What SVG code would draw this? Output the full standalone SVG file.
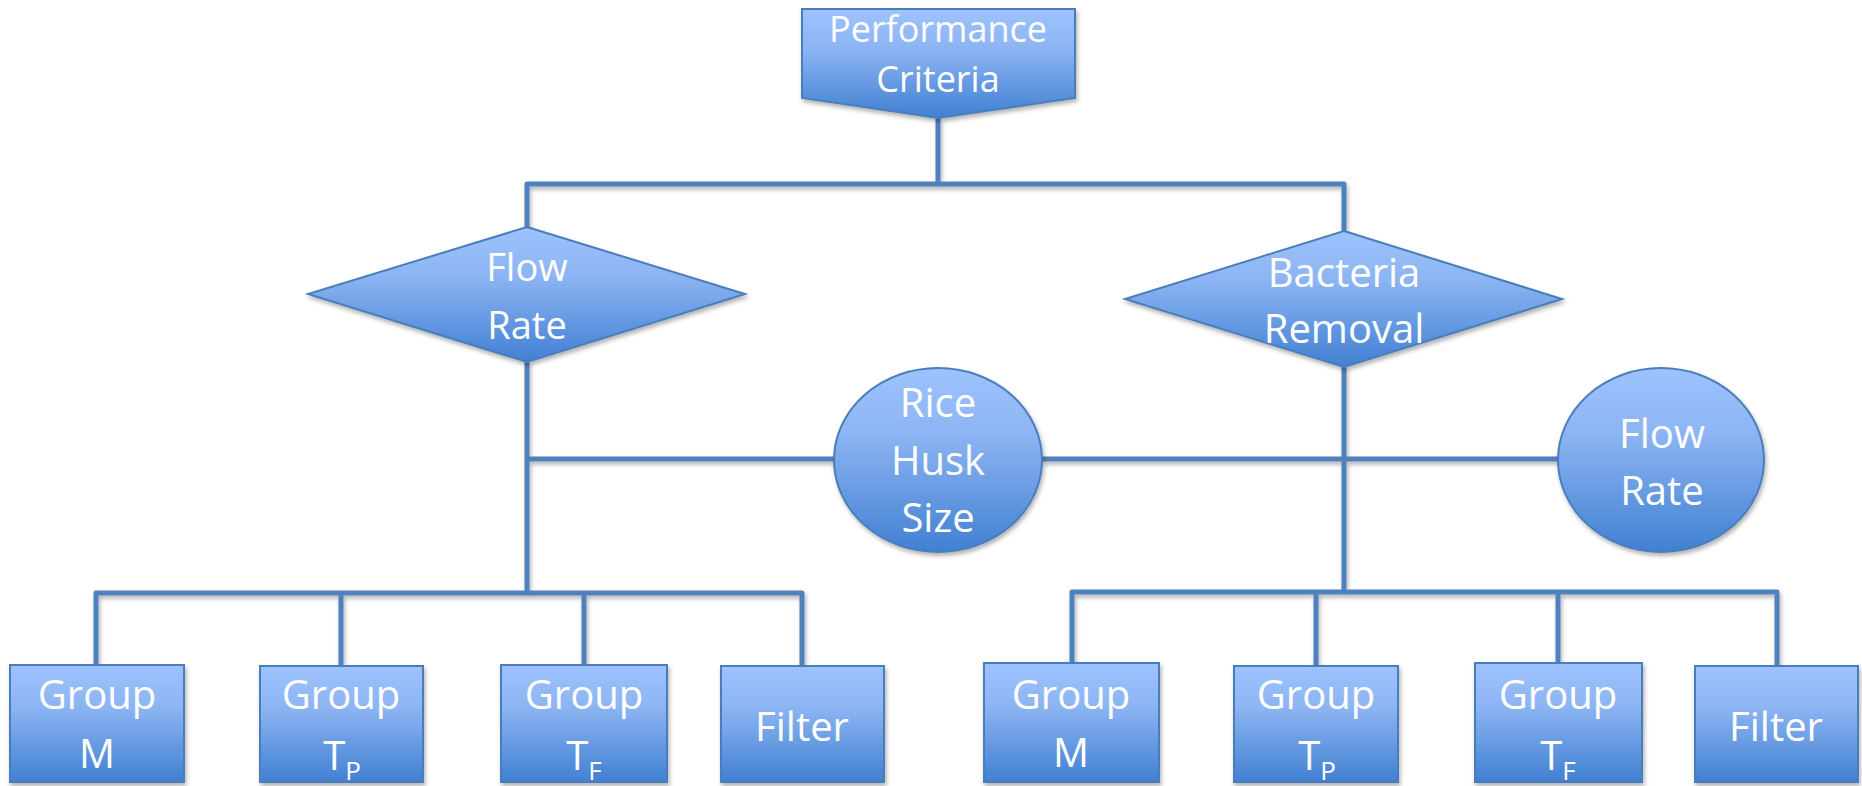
<svg xmlns="http://www.w3.org/2000/svg" width="1862" height="786" viewBox="0 0 1862 786">
<defs>
<linearGradient id="g" x1="0" y1="0" x2="0" y2="1">
<stop offset="0" stop-color="#9DC3FE"/>
<stop offset="0.35" stop-color="#8DB5F3"/>
<stop offset="1" stop-color="#4180D2"/>
</linearGradient>
<filter id="sh" x="-10%" y="-10%" width="130%" height="130%">
<feDropShadow dx="1.5" dy="3" stdDeviation="2" flood-color="#000" flood-opacity="0.3"/>
</filter>
<style>
.n{fill:url(#g);stroke:#4A7EBB;stroke-width:2;filter:url(#sh)}
.c{fill:none;stroke:#4F81BD;stroke-width:5;stroke-linejoin:round;filter:url(#sh)}
.t{fill:#fff;font-family:"Open Sans","Liberation Sans",sans-serif;font-size:40px;text-anchor:middle}
.s{font-size:26px}
</style>
</defs>
<rect width="1862" height="786" fill="#fff"/>
<g id="connectors">
<path class="c" d="M938 118V184M527 227V184H1344V231"/>
<path class="c" d="M527 362V593M527 459H834M96 665V593H802V665M341 593V666M584 593V665"/>
<path class="c" d="M1344 367V591M1042 459H1558M1072 663V592H1777V666M1316 592V666M1558 592V663"/>
</g>
<g id="performance-criteria">
<path class="n" d="M802 9H1075V98L938 118L802 98Z"/>
<text class="t" style="font-size:36px" x="938" y="42">Performance</text>
<text class="t" style="font-size:36px" x="938" y="92">Criteria</text>
</g>
<g id="flow-rate-decision">
<path class="n" d="M527 227L745 294L527 362L308 294Z"/>
<text class="t" style="font-size:38px" x="527" y="281">Flow</text>
<text class="t" style="font-size:38px" x="527" y="339">Rate</text>
</g>
<g id="bacteria-removal-decision">
<path class="n" d="M1344 231L1562 299L1344 367L1125 299Z"/>
<text class="t" x="1344" y="287">Bacteria</text>
<text class="t" x="1344" y="343">Removal</text>
</g>
<g id="rice-husk-size">
<ellipse class="n" cx="938" cy="460" rx="104" ry="92"/>
<text class="t" x="938" y="417">Rice</text>
<text class="t" x="938" y="475">Husk</text>
<text class="t" x="938" y="532">Size</text>
</g>
<g id="flow-rate-circle">
<ellipse class="n" cx="1661" cy="460" rx="103" ry="92"/>
<text class="t" x="1662" y="448">Flow</text>
<text class="t" x="1662" y="505">Rate</text>
</g>
<g id="group-m-left">
<rect class="n" x="10" y="665" width="174" height="117"/>
<text class="t" x="97" y="709">Group</text>
<text class="t" x="97" y="768">M</text>
</g>
<g id="group-tp-left">
<rect class="n" x="260" y="666" width="163" height="116"/>
<text class="t" x="341" y="709">Group</text>
<text class="t" x="342" y="770">T<tspan class="s" dy="10">P</tspan></text>
</g>
<g id="group-tf-left">
<rect class="n" x="501" y="665" width="166" height="117"/>
<text class="t" x="584" y="709">Group</text>
<text class="t" x="584" y="770">T<tspan class="s" dy="10">F</tspan></text>
</g>
<g id="filter-left">
<rect class="n" x="721" y="666" width="163" height="116"/>
<text class="t" x="802" y="741">Filter</text>
</g>
<g id="group-m-right">
<rect class="n" x="984" y="663" width="175" height="119"/>
<text class="t" x="1071" y="709">Group</text>
<text class="t" x="1071" y="767">M</text>
</g>
<g id="group-tp-right">
<rect class="n" x="1234" y="666" width="164" height="116"/>
<text class="t" x="1316" y="709">Group</text>
<text class="t" x="1317" y="770">T<tspan class="s" dy="10">P</tspan></text>
</g>
<g id="group-tf-right">
<rect class="n" x="1475" y="663" width="167" height="119"/>
<text class="t" x="1558" y="709">Group</text>
<text class="t" x="1558" y="770">T<tspan class="s" dy="10">F</tspan></text>
</g>
<g id="filter-right">
<rect class="n" x="1695" y="666" width="163" height="116"/>
<text class="t" x="1776" y="741">Filter</text>
</g>
</svg>
